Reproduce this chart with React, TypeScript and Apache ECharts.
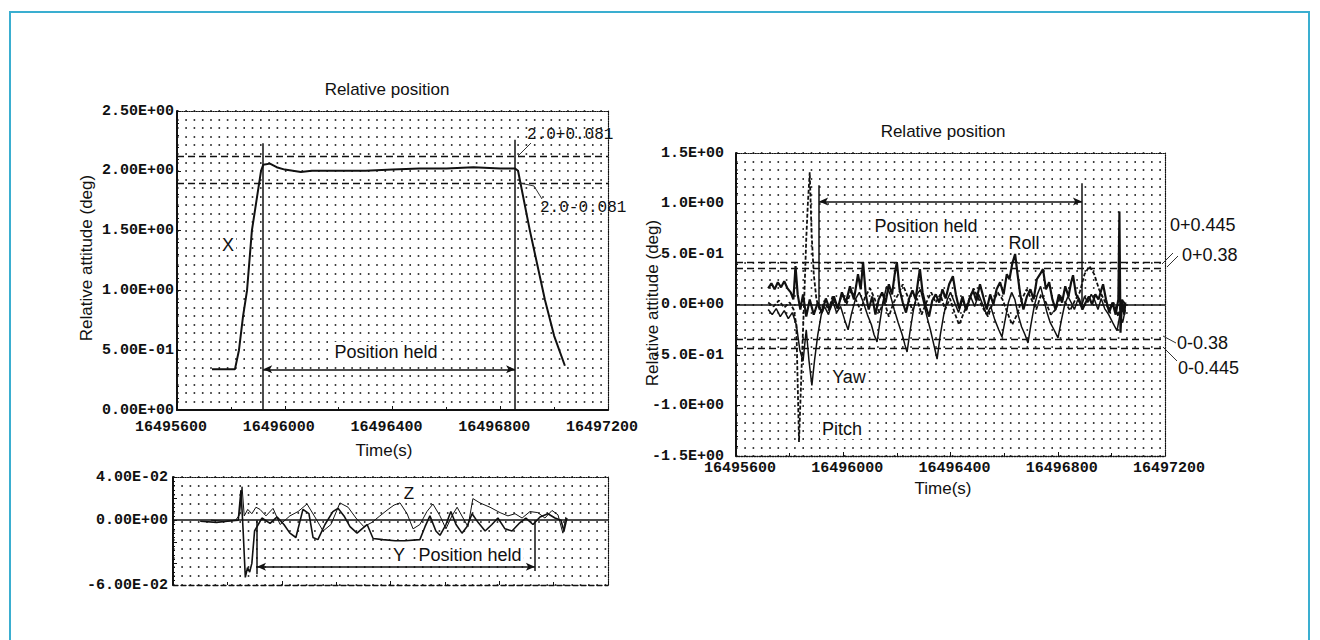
import React, { useEffect, useRef } from 'react';
import * as echarts from 'echarts';

// ---- axes ----
const T_MIN = 16495600;
const T_MAX = 16497200;
const T_STEP = 400;
const X_TICK_LABELS = ['16495600', '16496000', '16496400', '16496800', '16497200'];
const Y1_LABELS = ['0.00E+00', '5.00E-01', '1.00E+00', '1.50E+00', '2.00E+00', '2.50E+00'];
const Y2_LABELS = ['-6.00E-02', '', '', '0.00E+00', '', '4.00E-02'];
const Y3_LABELS = ['-1.5E+00', '-1.0E+00', '-5.0E-01', '0.0E+00', '5.0E-01', '1.0E+00', '1.5E+00'];

// ---- chart 1 : X axis rotation ----
const X_SERIES: [number, number][] = [
  [16495730, 0.34], [16495815, 0.34], [16495830, 0.5], [16495845, 0.78], [16495860, 1.0],
  [16495878, 1.5], [16495895, 1.75], [16495912, 2.0], [16495920, 2.05], [16495945, 2.06],
  [16495970, 2.03], [16496000, 2.01], [16496030, 2.0], [16496060, 1.99], [16496100, 2.0],
  [16496200, 2.0], [16496300, 2.0], [16496400, 2.01], [16496500, 2.02], [16496600, 2.02],
  [16496700, 2.03], [16496800, 2.02], [16496855, 2.02], [16496866, 2.0], [16496910, 1.5],
  [16496966, 0.92], [16497000, 0.62], [16497040, 0.37],
];
const C1_LIMITS = [2.12, 1.9];
const C1_HOLD = [16495920, 16496855];
const C1_HOLD_TOPS = [2.23, 2.26];
const C1_ARROW_Y = 0.34;

// ---- chart 2 : Y and Z ----
const Z_SERIES: [number, number][] = [
  [16495740, 0.0], [16495790, -0.001], [16495830, 0.0], [16495845, 0.005], [16495854, 0.031],
  [16495862, 0.004], [16495875, 0.01], [16495890, 0.006], [16495905, 0.012], [16495920, 0.01],
  [16495942, 0.004], [16495968, 0.011], [16495994, -0.004], [16496030, 0.004], [16496060, 0.008],
  [16496093, 0.015], [16496122, 0.003], [16496152, -0.01], [16496181, -0.004], [16496214, 0.016],
  [16496244, 0.012], [16496273, 0.002], [16496302, -0.006], [16496332, -0.002], [16496361, 0.004],
  [16496391, 0.01], [16496413, 0.014], [16496435, 0.016], [16496461, 0.006], [16496483, -0.008],
  [16496508, -0.004], [16496534, 0.008], [16496556, 0.015], [16496582, 0.004], [16496604, -0.008],
  [16496626, 0.004], [16496645, 0.012], [16496667, 0.002], [16496685, -0.006], [16496703, 0.02],
  [16496729, 0.016], [16496766, 0.012], [16496803, 0.007], [16496832, 0.004], [16496858, 0.006],
  [16496884, 0.002], [16496913, 0.008], [16496942, 0.007], [16496968, 0.002], [16496994, 0.009],
  [16497016, 0.005], [16497034, -0.012], [16497045, 0.003],
];
const Y_SERIES: [number, number][] = [
  [16495700, -0.001], [16495760, -0.002], [16495800, -0.001], [16495840, 0.0], [16495850, 0.028],
  [16495858, -0.01], [16495866, -0.053], [16495874, -0.044], [16495882, -0.048], [16495890, -0.04],
  [16495900, -0.01], [16495927, 0.002], [16495957, -0.003], [16495983, 0.003], [16496008, -0.004],
  [16496030, -0.012], [16496052, -0.016], [16496078, 0.01], [16496100, 0.006], [16496115, -0.016],
  [16496133, -0.018], [16496159, -0.004], [16496188, 0.008], [16496207, 0.011], [16496229, 0.004],
  [16496251, -0.006], [16496277, -0.012], [16496295, -0.008], [16496314, -0.004], [16496336, -0.017],
  [16496372, -0.018], [16496417, -0.019], [16496453, -0.019], [16496508, -0.018], [16496527, -0.006],
  [16496545, 0.004], [16496567, -0.01], [16496582, -0.014], [16496604, -0.004], [16496622, 0.008],
  [16496641, -0.004], [16496663, -0.012], [16496681, -0.006], [16496700, 0.006], [16496722, -0.002],
  [16496748, -0.01], [16496773, -0.004], [16496795, 0.002], [16496821, -0.008], [16496847, -0.01],
  [16496873, -0.003], [16496898, 0.002], [16496924, -0.004], [16496950, 0.003], [16496979, 0.006],
  [16497005, 0.002], [16497027, 0.0], [16497038, -0.01], [16497049, 0.002],
];
const C2_HOLD = [16495909, 16496931];
const C2_HOLD_BOTTOMS = [-0.05, -0.047];
const C2_ARROW_Y = -0.043;

// ---- chart 3 : Roll, Pitch, Yaw ----
const ROLL: [number, number][] = [
  [16495720, 0.16], [16495732, 0.21], [16495744, 0.15], [16495756, 0.22], [16495768, 0.17],
  [16495780, 0.23], [16495792, 0.16], [16495804, 0.12], [16495814, 0.05], [16495822, 0.38],
  [16495830, 0.1], [16495840, -0.05], [16495850, 0.1], [16495862, -0.12], [16495875, 0.05],
  [16495890, -0.1], [16495905, 0.02], [16495920, -0.08], [16495935, 0.06], [16495950, -0.05],
  [16495965, 0.08], [16495980, -0.04], [16495995, 0.12], [16496010, 0.02], [16496025, 0.18],
  [16496040, 0.05], [16496055, 0.3], [16496065, 0.15], [16496074, 0.42], [16496084, 0.1],
  [16496095, -0.05], [16496108, 0.08], [16496120, -0.1], [16496132, 0.05], [16496145, 0.12],
  [16496158, 0.02], [16496170, 0.2], [16496182, 0.1], [16496192, 0.3], [16496200, 0.42],
  [16496210, 0.15], [16496222, 0.02], [16496234, -0.08], [16496246, 0.06], [16496258, 0.14],
  [16496270, 0.05], [16496280, 0.25], [16496286, 0.35], [16496296, 0.12], [16496308, -0.02],
  [16496320, -0.12], [16496332, 0.04], [16496345, 0.1], [16496358, 0.02], [16496370, 0.15],
  [16496382, 0.06], [16496395, 0.2], [16496409, 0.28], [16496420, 0.1], [16496432, -0.04],
  [16496445, 0.08], [16496458, -0.06], [16496470, 0.05], [16496484, 0.14], [16496496, 0.04],
  [16496510, 0.2], [16496522, 0.08], [16496535, -0.05], [16496548, 0.1], [16496560, 0.0],
  [16496572, 0.15], [16496585, 0.22], [16496598, 0.1], [16496610, 0.3], [16496620, 0.25],
  [16496630, 0.4], [16496641, 0.5], [16496650, 0.3], [16496660, 0.1], [16496672, -0.05],
  [16496685, 0.08], [16496698, 0.15], [16496710, 0.05], [16496722, 0.25], [16496734, 0.3],
  [16496745, 0.35], [16496756, 0.15], [16496768, 0.22], [16496780, 0.05], [16496792, -0.05],
  [16496804, 0.1], [16496816, 0.02], [16496828, 0.18], [16496840, 0.08], [16496850, 0.22],
  [16496857, 0.29], [16496868, 0.1], [16496880, 0.05], [16496892, -0.05], [16496904, 0.02],
  [16496916, 0.08], [16496928, 0.0], [16496940, 0.1], [16496952, 0.05], [16496962, 0.14],
  [16496969, 0.2], [16496980, 0.05], [16496992, -0.08], [16497004, 0.02], [16497016, -0.1],
  [16497026, 0.05], [16497030, 0.92], [16497034, -0.28], [16497040, 0.05], [16497048, -0.1],
  [16497052, 0.02],
];
const YAW: [number, number][] = [
  [16495720, -0.05], [16495735, -0.1], [16495750, -0.04], [16495765, -0.12], [16495780, -0.06],
  [16495795, -0.14], [16495810, -0.08], [16495825, -0.2], [16495838, -0.45], [16495850, -0.56],
  [16495862, -0.25], [16495872, -0.55], [16495883, -0.8], [16495893, -0.55], [16495905, -0.3],
  [16495918, -0.1], [16495930, -0.02], [16495945, -0.1], [16495960, 0.04], [16495975, -0.08],
  [16495990, -0.02], [16496005, -0.15], [16496018, -0.25], [16496030, -0.1], [16496045, 0.05],
  [16496060, 0.12], [16496075, 0.02], [16496090, -0.1], [16496105, -0.2], [16496115, -0.3],
  [16496126, -0.37], [16496138, -0.15], [16496150, 0.05], [16496162, 0.18], [16496175, 0.1],
  [16496190, -0.05], [16496205, -0.18], [16496220, -0.3], [16496230, -0.4], [16496238, -0.47],
  [16496250, -0.25], [16496262, -0.05], [16496275, 0.1], [16496288, 0.15], [16496300, 0.02],
  [16496312, -0.12], [16496325, -0.25], [16496338, -0.4], [16496350, -0.54], [16496362, -0.3],
  [16496375, -0.1], [16496388, 0.05], [16496400, 0.12], [16496415, 0.02], [16496430, -0.08],
  [16496445, 0.05], [16496460, -0.05], [16496475, 0.08], [16496490, -0.02], [16496505, 0.1],
  [16496520, 0.0], [16496535, -0.1], [16496550, -0.02], [16496565, -0.15], [16496580, -0.25],
  [16496592, -0.32], [16496604, -0.15], [16496616, 0.02], [16496628, 0.12], [16496640, 0.05],
  [16496652, -0.1], [16496665, -0.22], [16496678, -0.3], [16496689, -0.38], [16496700, -0.2],
  [16496712, -0.02], [16496724, 0.1], [16496736, 0.18], [16496748, 0.05], [16496760, -0.08],
  [16496772, -0.18], [16496786, -0.25], [16496801, -0.33], [16496814, -0.15], [16496826, 0.0],
  [16496838, 0.08], [16496850, 0.02], [16496862, -0.05], [16496875, 0.05], [16496888, -0.02],
  [16496900, 0.08], [16496912, 0.02], [16496925, 0.1], [16496938, 0.04], [16496950, -0.05],
  [16496962, 0.06], [16496975, -0.04], [16496990, -0.1], [16497005, -0.18], [16497021, -0.26],
  [16497032, -0.1], [16497042, -0.18], [16497052, -0.05],
];
const PITCH: [number, number][] = [
  [16495720, 0.02], [16495740, -0.02], [16495760, 0.04], [16495780, -0.03], [16495800, 0.02],
  [16495815, -0.05], [16495825, -0.2], [16495835, -1.36], [16495845, -0.6], [16495855, 0.1],
  [16495862, 0.65], [16495868, 1.0], [16495875, 1.31], [16495882, 0.7], [16495890, 0.3],
  [16495900, 0.05], [16495915, -0.08], [16495930, 0.04], [16495945, -0.06], [16495960, 0.08],
  [16495978, -0.04], [16495995, 0.1], [16496012, 0.0], [16496030, 0.14], [16496048, 0.04],
  [16496065, -0.06], [16496082, 0.08], [16496100, 0.16], [16496118, 0.05], [16496135, -0.08],
  [16496152, 0.04], [16496170, -0.12], [16496188, 0.02], [16496205, 0.1], [16496222, 0.2],
  [16496240, 0.08], [16496258, -0.06], [16496275, 0.06], [16496292, -0.1], [16496310, 0.02],
  [16496328, 0.12], [16496345, 0.02], [16496362, 0.1], [16496380, -0.05], [16496398, 0.06],
  [16496415, -0.08], [16496432, -0.2], [16496450, -0.08], [16496468, 0.04], [16496486, 0.16],
  [16496504, 0.06], [16496522, -0.04], [16496540, -0.12], [16496558, 0.02], [16496576, 0.12],
  [16496594, 0.05], [16496612, -0.08], [16496630, -0.2], [16496648, -0.1], [16496666, 0.05],
  [16496684, 0.15], [16496702, 0.05], [16496720, -0.05], [16496738, 0.1], [16496756, 0.02],
  [16496774, -0.1], [16496792, -0.05], [16496810, 0.08], [16496828, 0.02], [16496846, -0.06],
  [16496864, 0.04], [16496882, 0.12], [16496900, 0.3], [16496918, 0.38], [16496936, 0.3],
  [16496954, 0.15], [16496972, 0.05], [16496990, -0.05], [16497008, 0.02], [16497026, -0.12],
  [16497040, 0.05], [16497052, 0.0],
];
const C3_LIMITS = [0.42, 0.36, -0.34, -0.43];
const C3_HOLD = [16495910, 16496890];
const C3_HOLD_TOPS = [1.18, 1.2];
const C3_ARROW_Y = 1.02;

const MONO = 'Liberation Mono';
const SANS = 'Liberation Sans';
const INK = '#111';

function mainX(gridIndex: number, showLabels: boolean, lineType: any) {
  return {
    type: 'value', gridIndex, min: T_MIN, max: T_MAX, interval: T_STEP,
    axisLine: { show: true, onZero: false, lineStyle: { color: INK, width: lineType === 'solid' ? 2 : 1.3, type: lineType } },
    axisTick: { show: true, inside: true, length: 4, lineStyle: { color: INK } },
    minorTick: { show: true, splitNumber: 2, length: 3, lineStyle: { color: INK } },
    axisLabel: {
      show: showLabels, margin: gridIndex === 2 ? 6 : 11, lineHeight: 12,
      formatter: (v: number) => X_TICK_LABELS[Math.round((v - T_MIN) / T_STEP)] ?? '',
      fontFamily: MONO, fontWeight: 'bold', fontSize: 15, color: INK,
      padding: gridIndex === 0 ? [0, 12, 0, 0] : [0, 0, 0, 8],
    },
    splitLine: { show: false },
  };
}
function topX(gridIndex: number) {
  return {
    type: 'value', gridIndex, position: 'top', min: T_MIN, max: T_MAX, interval: T_STEP,
    axisLine: { show: true, onZero: false, lineStyle: { color: '#111', width: 1.2, type: 'dotted' } },
    axisTick: { show: false }, axisLabel: { show: false }, splitLine: { show: false },
  };
}
function mainY(gridIndex: number, min: number, max: number, interval: number, labels: string[], margin: number) {
  return {
    type: 'value', gridIndex, min, max, interval, position: 'left',
    axisLine: { show: true, onZero: false, lineStyle: { color: INK, width: 2 } },
    axisTick: { show: true, inside: true, length: 4, lineStyle: { color: INK } },
    minorTick: { show: true, splitNumber: 5, length: 2, lineStyle: { color: INK } },
    axisLabel: {
      margin, lineHeight: 12,
      formatter: (v: number) => labels[Math.round((v - min) / interval)] ?? '',
      fontFamily: MONO, fontWeight: 'bold', fontSize: 15, color: INK,
    },
    splitLine: { show: false },
  };
}
function dotY(gridIndex: number, rows: number) {
  return {
    type: 'value', gridIndex, position: 'right', min: 0, max: rows, interval: 1,
    axisLine: { show: true, onZero: false, lineStyle: { color: '#111', width: 1.2, type: 'dotted' } },
    axisTick: { show: false }, axisLabel: { show: false },
    splitLine: { show: true, lineStyle: { color: '#000', width: 1.6, type: [1.6, 6.7] } },
  };
}

const solid = { color: INK, width: 1.5, type: 'solid' };
const dashed = { color: INK, width: 1.4, type: [7, 4] };

function vline(t: number, y0: number, y1: number) {
  return [{ coord: [t, y0], lineStyle: solid }, { coord: [t, y1] }];
}
function arrow(t0: number, t1: number, y: number) {
  return [
    { coord: [t0, y], symbol: 'arrow', symbolSize: [6, 9], lineStyle: solid },
    { coord: [t1, y], symbol: 'arrow', symbolSize: [6, 9] },
  ];
}

function txt(text: string, x: number, y: number, opts: any = {}) {
  return {
    type: 'text', x, y, z: 100, rotation: opts.rotation || 0,
    style: {
      text, fontSize: opts.size || 17, fontFamily: opts.font || SANS, fill: INK,
      align: opts.align || 'center', verticalAlign: 'middle',
      backgroundColor: opts.bg ? '#fff' : undefined, padding: opts.bg ? [1, 2] : 0,
      fontWeight: opts.bold ? 'bold' : 'normal',
    },
  };
}
function pl(points: number[][]) {
  return { type: 'polyline', z: 100, shape: { points }, style: { stroke: '#333', lineWidth: 1, fill: 'none' } };
}

export default function App() {
  const ref = useRef<HTMLDivElement>(null);
  useEffect(() => {
    if (!ref.current) return;
    const chart = echarts.init(ref.current, undefined, { renderer: 'svg' });
    const ml = (data: any[]) => ({
      silent: true, symbol: 'none', animation: false, label: { show: false },
      emphasis: { disabled: true }, lineStyle: solid, data,
    });
    chart.setOption({
      animation: false,
      backgroundColor: '#fff',
      grid: [
        { left: 177, top: 111, width: 431, height: 299 },
        { left: 173, top: 477, width: 435, height: 108 },
        { left: 736, top: 153, width: 429, height: 303 },
      ],
      xAxis: [
        mainX(0, true, 'solid'), mainX(1, false, [5, 3]), mainX(2, true, 'dotted'),
        topX(0), topX(1), topX(2),
      ],
      yAxis: [
        mainY(0, 0, 2.5, 0.5, Y1_LABELS, 3),
        mainY(1, -0.06, 0.04, 0.02, Y2_LABELS, 5),
        mainY(2, -1.5, 1.5, 0.5, Y3_LABELS, 12),
        dotY(0, 35), dotY(1, 12), dotY(2, 36),
      ],
      series: [
        {
          name: 'X', type: 'line', xAxisIndex: 0, yAxisIndex: 0, data: X_SERIES, showSymbol: false,
          lineStyle: { color: INK, width: 2 }, z: 5,
          markLine: ml([
            { yAxis: C1_LIMITS[0], lineStyle: dashed },
            { yAxis: C1_LIMITS[1], lineStyle: dashed },
            vline(C1_HOLD[0], 0, C1_HOLD_TOPS[0]),
            vline(C1_HOLD[1], 0, C1_HOLD_TOPS[1]),
            arrow(C1_HOLD[0], C1_HOLD[1], C1_ARROW_Y),
          ]),
        },
        {
          name: 'Z', type: 'line', xAxisIndex: 1, yAxisIndex: 1, data: Z_SERIES, showSymbol: false,
          lineStyle: { color: INK, width: 1 }, z: 5,
          markLine: ml([
            { yAxis: 0, lineStyle: solid },
            vline(C2_HOLD[0], 0, C2_HOLD_BOTTOMS[0]),
            vline(C2_HOLD[1], 0, C2_HOLD_BOTTOMS[1]),
            arrow(C2_HOLD[0], C2_HOLD[1], C2_ARROW_Y),
          ]),
        },
        {
          name: 'Y', type: 'line', xAxisIndex: 1, yAxisIndex: 1, data: Y_SERIES, showSymbol: false,
          lineStyle: { color: INK, width: 1.6 }, z: 5,
        },
        {
          name: 'Roll', type: 'line', xAxisIndex: 2, yAxisIndex: 2, data: ROLL, showSymbol: false,
          lineStyle: { color: INK, width: 2.2 }, z: 5,
          markLine: ml([
            { yAxis: 0, lineStyle: solid },
            { yAxis: C3_LIMITS[0], lineStyle: dashed },
            { yAxis: C3_LIMITS[1], lineStyle: dashed },
            { yAxis: C3_LIMITS[2], lineStyle: dashed },
            { yAxis: C3_LIMITS[3], lineStyle: dashed },
            vline(C3_HOLD[0], 0, C3_HOLD_TOPS[0]),
            vline(C3_HOLD[1], 0, C3_HOLD_TOPS[1]),
            arrow(C3_HOLD[0], C3_HOLD[1], C3_ARROW_Y),
          ]),
        },
        {
          name: 'Pitch', type: 'line', xAxisIndex: 2, yAxisIndex: 2, data: PITCH, showSymbol: false,
          lineStyle: { color: INK, width: 1.8, type: [4, 2] }, z: 5,
        },
        {
          name: 'Yaw', type: 'line', xAxisIndex: 2, yAxisIndex: 2, data: YAW, showSymbol: false,
          lineStyle: { color: INK, width: 1.5 }, z: 5,
        },
      ],
      graphic: [
        { type: 'rect', z: 100, shape: { x: 10, y: 12, width: 1299, height: 700 }, style: { fill: 'none', stroke: '#3aaed0', lineWidth: 2 } },
        // chart 1
        txt('Relative position', 387, 89),
        txt('Time(s)', 384, 450),
        txt('Relative attitude (deg)', 86, 258, { rotation: Math.PI / 2 }),
        txt('X', 228, 245, { bg: true, size: 18 }),
        txt('Position held', 386, 352, { bg: true, size: 18 }),
        txt('2.0+0.081', 527, 135, { align: 'left', font: MONO, size: 16 }),
        txt('2.0-0.081', 540, 208, { align: 'left', font: MONO, size: 16 }),
        pl([[518, 156], [531, 143]]),
        pl([[520, 183], [534, 186], [542, 199]]),
        // chart 2
        txt('Z', 409, 493, { bg: true }),
        txt('Y', 399, 555, { bg: true, size: 18 }),
        txt('Position held', 470, 555, { bg: true, size: 18 }),
        // chart 3
        txt('Relative position', 943, 131),
        txt('Time(s)', 943, 488),
        txt('Relative attitude (deg)', 652, 303, { rotation: Math.PI / 2 }),
        txt('Position held', 926, 226, { bg: true, size: 18 }),
        txt('Roll', 1024, 243, { bg: true, size: 18 }),
        txt('Yaw', 849, 377, { bg: true, size: 18 }),
        txt('Pitch', 842, 429, { bg: true, size: 18 }),
        txt('0+0.445', 1170, 225, { align: 'left', size: 18 }),
        txt('0+0.38', 1182, 255, { align: 'left', size: 18 }),
        txt('0-0.38', 1177, 343, { align: 'left', size: 18 }),
        txt('0-0.445', 1178, 368, { align: 'left', size: 18 }),
        pl([[1162, 264], [1173, 253]]),
        pl([[1167, 267], [1178, 256]]),
        pl([[1163, 336], [1176, 343]]),
        pl([[1163, 347], [1177, 361]]),
      ],
    });
    return () => chart.dispose();
  }, []);
  return <div ref={ref} style={{ position: 'absolute', left: 0, top: 0, width: 1320, height: 640 }} />;
}
